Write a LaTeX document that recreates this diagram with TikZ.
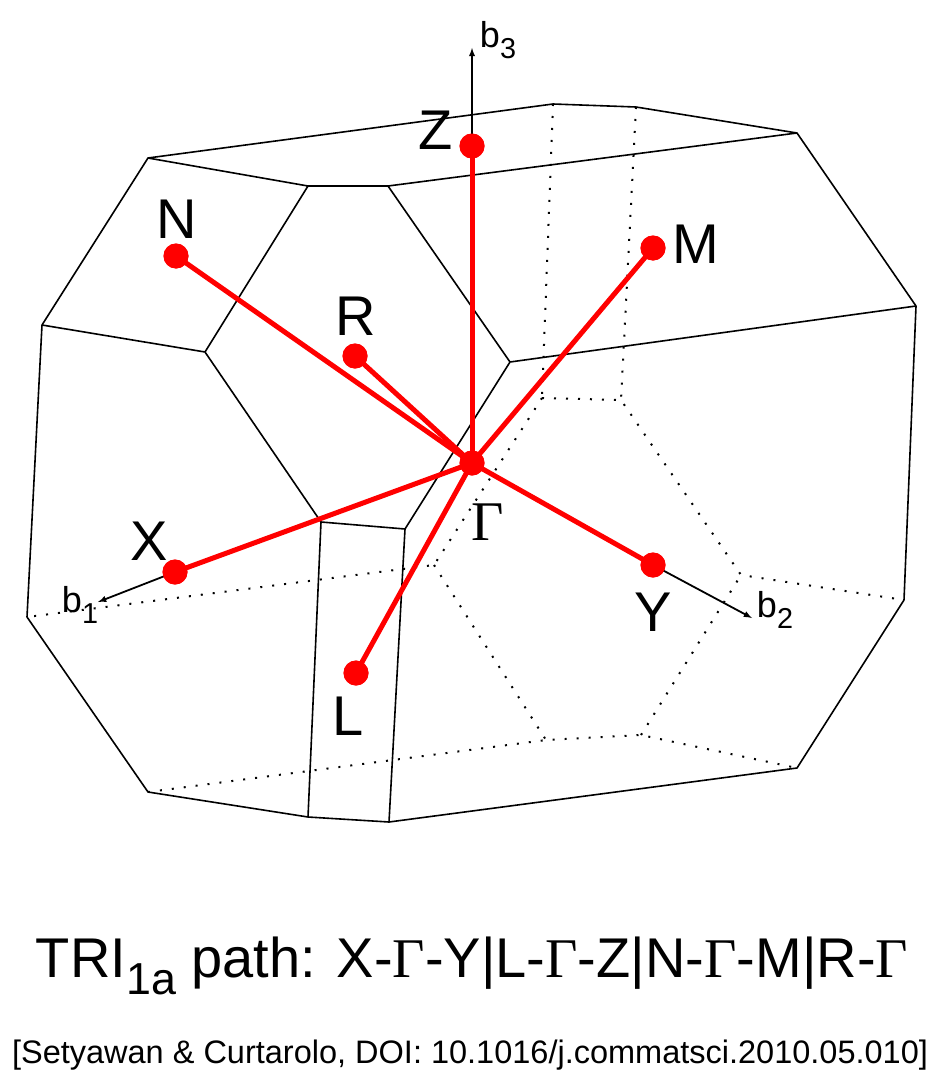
\documentclass[tikz,border=0pt]{standalone}
\usepackage{fontspec}
\setmainfont{Liberation Sans}
\newfontfamily\serf{Liberation Serif}
\newcommand{\mysub}[1]{\raisebox{-0.3em}{\scalebox{0.8}{#1}}}
\begin{document}
\begin{tikzpicture}[x=1pt,y=-1pt,
  edge/.style={black,line width=1.6pt,line join=round},
  hid/.style={black,line width=2pt,dash pattern=on 2pt off 10pt},
  path/.style={red,line width=5pt},
  kpt/.style={circle,fill=red,inner sep=0pt,minimum size=25pt},
  lab/.style={font=\fontsize{56}{56}\selectfont,inner sep=0pt},
  ax/.style={black,line width=1.8pt,-latex},
  axl/.style={font=\fontsize{36}{36}\selectfont,inner sep=0pt}]
\useasboundingbox (0,0) rectangle (939,1081);
\foreach \n/\x/\y in {P1/148/158,P2/553/104,P3/636/107,P4/797/133,P5/916/306,P6/904/600,P7/797/768,P8/389/822,P9/308/817,P10/148/792,P11/27/617,P12/42/325,
 Q1/308/186,Q2/388/186,Q3/205/352,Q4/321/522,Q5/510/362,Q6/405/529,
 HA/542/398,HB/621/400,HC/741/575,HD/434/565,HE/546/740,HF/641/735}
 \coordinate (\n) at (\x,\y);
\draw[hid] (P2)--(HA) (P3)--(HB) (HA)--(HB)--(HC)--(P6) (HA)--(HD)--(P11) (HD)--(HE) (HF)--(HC) (P10)--(HE)--(HF)--(P7);
\draw[edge] (P1)--(P2)--(P3)--(P4)--(P5)--(P6)--(P7)--(P8)--(P9)--(P10)--(P11)--(P12)--cycle;
\draw[edge] (P1)--(Q1)--(Q2)--(P4) (P12)--(Q3)--(Q1) (Q3)--(Q4)--(Q6)--(Q5)--(Q2) (Q5)--(P5) (Q4)--(P9) (Q6)--(P8);
\node[kpt] (G) at (472,463) {};
\node[kpt] (Z) at (472,146) {};
\node[kpt] (N) at (176,256) {};
\node[kpt] (M) at (653,248) {};
\node[kpt] (R) at (355,356) {};
\node[kpt] (X) at (175,572) {};
\node[kpt] (Y) at (653,565) {};
\node[kpt] (L) at (356,673) {};
\coordinate (b3) at (472,48);
\coordinate (b1) at (98,602);
\coordinate (b2) at (752,618);
\draw[ax] (Z.center)--(b3);
\draw[ax] (X.center)--(b1);
\draw[ax] (Y.center)--(b2);
\foreach \p in {Z,N,M,R,X,Y,L} \draw[path] (G.center)--(\p.center);
\foreach \p in {G,Z,N,M,R,X,Y,L} \node[kpt] at (\p) {};
\node[lab] (lz) at (436,130) {Z};
\node[lab] (ln) at (177,219) {N};
\node[lab] (lm) at (696,244) {M};
\node[lab] (lr) at (356,316) {R};
\node[lab] (lg) at (488,522) {\serf Γ};
\node[lab] (lx) at (149,541) {X};
\node[lab] (ly) at (653,612) {Y};
\node[lab] (ll) at (348,716) {L};
\node[axl] (l3) at (498,40) {b\mysub{3}};
\node[axl] (l1) at (80,605) {b\mysub{1}};
\node[axl] (l2) at (775,610) {b\mysub{2}};
\node[font=\fontsize{56}{56}\selectfont,inner sep=0pt] (title) at (472,966) {TRI\mysub{1a} path: X-{\serf Γ}-Y|L-{\serf Γ}-Z|N-{\serf Γ}-M|R-{\serf Γ}};
\node[font=\fontsize{32.5}{32.5}\selectfont,inner sep=0pt] (cite) at (470,1055) {[Setyawan \& Curtarolo, DOI: 10.1016/j.commatsci.2010.05.010]};
\end{tikzpicture}
\end{document}
